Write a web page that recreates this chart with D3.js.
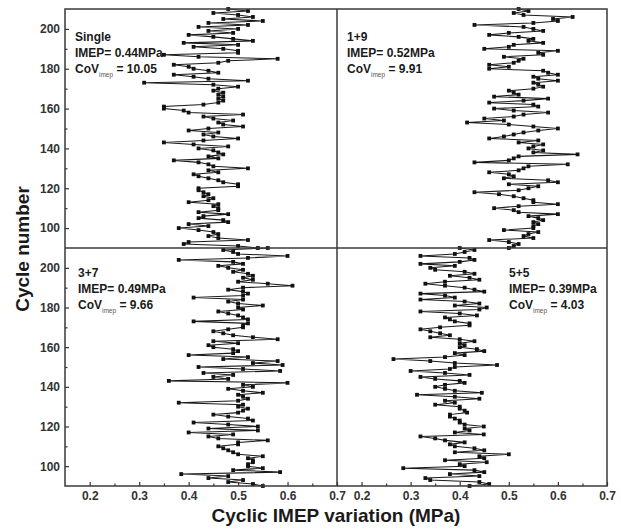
<!DOCTYPE html>
<html>
<head>
<meta charset="utf-8">
<script src="https://cdn.jsdelivr.net/npm/d3@7"></script>
<style>
  body { margin: 0; background: #fff; }
  text { font-family: "Liberation Sans", Arial, sans-serif; font-weight: bold; }
</style>
</head>
<body>
<div id="chart"></div>
<script>
// cycles run from top (210) to bottom (90)
const cycles = d3.range(210, 89, -1)

const single = [
  0.48, 0.52, 0.45, 0.50, 0.53, 0.47, 0.55, 0.44, 0.52, 0.42,
  0.50, 0.44, 0.49, 0.40, 0.45, 0.49, 0.53, 0.39, 0.50, 0.41,
  0.47, 0.50, 0.50, 0.35, 0.42, 0.58, 0.48, 0.46, 0.37, 0.40,
  0.41, 0.44, 0.46, 0.37, 0.41, 0.44, 0.52, 0.31, 0.45, 0.50,
  0.46, 0.45, 0.47, 0.46, 0.47, 0.46, 0.47, 0.46, 0.43, 0.35,
  0.35, 0.39, 0.40, 0.51, 0.43, 0.45, 0.49, 0.46, 0.47, 0.51,
  0.44, 0.40, 0.46, 0.43, 0.45, 0.50, 0.43, 0.35, 0.41, 0.48,
  0.42, 0.45, 0.46, 0.47, 0.44, 0.46, 0.37, 0.42, 0.44, 0.45,
  0.52, 0.44, 0.46, 0.41, 0.42, 0.44, 0.46, 0.47, 0.50, 0.50,
  0.42, 0.42, 0.43, 0.44, 0.43, 0.45, 0.44, 0.40, 0.46, 0.45,
  0.46, 0.46, 0.42, 0.48, 0.43, 0.42, 0.47, 0.48, 0.40, 0.44,
  0.38, 0.42, 0.45, 0.46, 0.44, 0.46, 0.52, 0.40, 0.39, 0.50, 0.54
]

const oneNine = [
  0.52, 0.54, 0.51, 0.53, 0.63, 0.59, 0.60, 0.55, 0.43, 0.53,
  0.55, 0.57, 0.50, 0.46, 0.52, 0.55, 0.54, 0.57, 0.51, 0.50,
  0.45, 0.60, 0.56, 0.57, 0.49, 0.53, 0.52, 0.51, 0.46, 0.50,
  0.46, 0.57, 0.58, 0.60, 0.55, 0.56, 0.60, 0.55, 0.56, 0.57,
  0.55, 0.50, 0.51, 0.52, 0.47, 0.58, 0.53, 0.46, 0.55, 0.56,
  0.47, 0.51, 0.58, 0.53, 0.51, 0.45, 0.49, 0.415, 0.50, 0.55,
  0.60, 0.56, 0.53, 0.51, 0.49, 0.46, 0.56, 0.52, 0.57, 0.55,
  0.54, 0.57, 0.55, 0.64, 0.52, 0.51, 0.50, 0.43, 0.62, 0.54,
  0.53, 0.52, 0.46, 0.50, 0.51, 0.49, 0.58, 0.60, 0.50, 0.56,
  0.54, 0.52, 0.43, 0.48, 0.51, 0.53, 0.55, 0.55, 0.60, 0.52,
  0.47, 0.51, 0.52, 0.60, 0.54, 0.56, 0.57, 0.55, 0.56, 0.55,
  0.55, 0.49, 0.56, 0.54, 0.53, 0.55, 0.46, 0.50, 0.52, 0.51, 0.50
]

const threeSeven = [
  0.56, 0.47, 0.49, 0.50, 0.60, 0.52, 0.38, 0.49, 0.51, 0.46,
  0.48, 0.51, 0.49, 0.52, 0.53, 0.51, 0.53, 0.50, 0.56, 0.61,
  0.51, 0.48, 0.51, 0.52, 0.51, 0.41, 0.51, 0.48, 0.50, 0.55,
  0.50, 0.51, 0.46, 0.48, 0.50, 0.51, 0.52, 0.41, 0.52, 0.51,
  0.51, 0.48, 0.45, 0.47, 0.49, 0.53, 0.58, 0.45, 0.50, 0.44,
  0.45, 0.49, 0.50, 0.49, 0.40, 0.52, 0.47, 0.58, 0.53, 0.59,
  0.42, 0.51, 0.585, 0.43, 0.49, 0.45, 0.48, 0.36, 0.60, 0.51,
  0.53, 0.48, 0.51, 0.55, 0.50, 0.51, 0.52, 0.50, 0.38, 0.51,
  0.50, 0.52, 0.51, 0.50, 0.45, 0.48, 0.52, 0.53, 0.41, 0.48,
  0.54, 0.44, 0.54, 0.40, 0.49, 0.44, 0.46, 0.56, 0.50, 0.50,
  0.46, 0.47, 0.48, 0.49, 0.50, 0.55, 0.52, 0.53, 0.53, 0.52,
  0.52, 0.55, 0.49, 0.585, 0.385, 0.48, 0.44, 0.51, 0.48, 0.53, 0.55
]

const fiveFive = [
  0.40, 0.43, 0.41, 0.39, 0.32, 0.42, 0.43, 0.40, 0.32, 0.39,
  0.34, 0.35, 0.41, 0.43, 0.38, 0.42, 0.44, 0.37, 0.33, 0.37,
  0.41, 0.43, 0.45, 0.32, 0.37, 0.39, 0.32, 0.41, 0.44, 0.39,
  0.455, 0.44, 0.32, 0.40, 0.435, 0.37, 0.38, 0.39, 0.42, 0.42,
  0.36, 0.32, 0.34, 0.36, 0.38, 0.34, 0.40, 0.43, 0.40, 0.41,
  0.40, 0.435, 0.45, 0.39, 0.41, 0.37, 0.265, 0.34, 0.39, 0.476,
  0.39, 0.38, 0.30, 0.37, 0.42, 0.32, 0.35, 0.40, 0.41, 0.37,
  0.35, 0.37, 0.39, 0.445, 0.313, 0.39, 0.44, 0.37, 0.39, 0.35,
  0.40, 0.40, 0.41, 0.415, 0.38, 0.38, 0.39, 0.40, 0.40, 0.41,
  0.449, 0.41, 0.42, 0.39, 0.449, 0.32, 0.35, 0.37, 0.41, 0.38,
  0.39, 0.43, 0.45, 0.39, 0.50, 0.44, 0.45, 0.37, 0.455, 0.40,
  0.41, 0.285, 0.43, 0.45, 0.38, 0.44, 0.33, 0.34, 0.44, 0.46, 0.42
]

const panelNames = ["Single", "1+9", "3+7", "5+5"]
const imepLabels = ["0.44", "0.52", "0.49", "0.39"]
const covLabels = ["10.05", "9.91", "9.66", "4.03"]
const xTicks = [0.2, 0.3, 0.4, 0.5, 0.6, 0.7]
const yTicks = [100, 120, 140, 160, 180, 200]

const width = 621
const height = 531
const cols = [[65, 337], [337, 607]]
const rows = [[9, 248], [248, 486]]
const series = [single, oneNine, threeSeven, fiveFive]
// text anchor offsets inside each panel
const textPos = [[75, 41], [347, 41], [78, 277], [509, 277]]

let svg = d3.select("#chart")
            .append("svg")
            .attr("width", width)
            .attr("height", height)

series.forEach(function(vals, i) {
  let c = i % 2, r = Math.floor(i / 2)
  let x = d3.scaleLinear().domain([0.15, 0.7]).range(cols[c])
  let y = d3.scaleLinear().domain([90, 210]).range([rows[r][1], rows[r][0]])
  let g = svg.append("g")

  let pts = vals.map(function(v, k) { return { v: v, cyc: cycles[k] } })

  let line = d3.line()
               .x(function(d) { return x(d.v) })
               .y(function(d) { return y(d.cyc) })

  g.append("path")
   .datum(pts)
   .attr("d", line)
   .attr("fill", "none")
   .attr("stroke", "#1a1a1a")
   .attr("stroke-width", 1.05)

  g.selectAll("rect.pt")
   .data(pts)
   .enter()
   .append("rect")
   .attr("class", "pt")
   .attr("x", function(d) { return x(d.v) - 1.9 })
   .attr("y", function(d) { return y(d.cyc) - 1.9 })
   .attr("width", 3.8)
   .attr("height", 3.8)
   .attr("fill", "#111")

  // bottom axis only on lower row
  if (r === 1) {
    svg.append("g")
       .attr("class", "axis")
       .attr("transform", "translate(0," + rows[r][1] + ")")
       .call(d3.axisBottom(x).tickValues(xTicks).tickFormat(d3.format(".1f")).tickSize(-4).tickPadding(5))
    svg.append("g")
       .attr("class", "axis minor")
       .attr("transform", "translate(0," + rows[r][1] + ")")
       .call(d3.axisBottom(x).tickValues([0.25, 0.35, 0.45, 0.55, 0.65]).tickFormat("").tickSize(-2.5))
  }
  // left axis only on left column
  if (c === 0) {
    svg.append("g")
       .attr("class", "axis")
       .attr("transform", "translate(" + cols[c][0] + ",0)")
       .call(d3.axisLeft(y).tickValues(yTicks).tickSize(-4).tickPadding(5))
    svg.append("g")
       .attr("class", "axis minor")
       .attr("transform", "translate(" + cols[c][0] + ",0)")
       .call(d3.axisLeft(y).tickValues([110, 130, 150, 170, 190]).tickFormat("").tickSize(-2.5))
  }

  // panel annotation
  let t = textPos[i]
  let ann = svg.append("g").attr("font-size", 12).attr("fill", "#1a1a1a")
  ann.append("text").attr("x", t[0]).attr("y", t[1]).text(panelNames[i])
  ann.append("text").attr("x", t[0]).attr("y", t[1] + 16).text("IMEP= " + imepLabels[i] + "MPa")
  let cov = ann.append("text").attr("x", t[0]).attr("y", t[1] + 32)
  cov.append("tspan").text("CoV")
  cov.append("tspan").attr("font-size", 6.5).attr("font-weight", "normal").attr("fill", "#555").attr("dy", 4).text("imep")
  cov.append("tspan").attr("dy", -4).text(" = " + covLabels[i])
})

svg.selectAll(".axis .domain").remove()
svg.selectAll(".axis line").attr("stroke", "#333").attr("stroke-width", 1.2)
svg.selectAll(".axis text").attr("font-size", 12).attr("fill", "#333")

// frames
let frame = svg.append("g").attr("fill", "none").attr("stroke", "#3a3a3a").attr("stroke-width", 1.5)
frame.append("rect").attr("x", 65).attr("y", 9).attr("width", 607 - 65).attr("height", 486 - 9)
frame.append("line").attr("x1", 337).attr("x2", 337).attr("y1", 9).attr("y2", 486)
frame.append("line").attr("x1", 65).attr("x2", 607).attr("y1", 248).attr("y2", 248)

svg.append("text")
   .attr("x", 336)
   .attr("y", 522)
   .attr("text-anchor", "middle")
   .attr("font-size", 19)
   .attr("fill", "#1a1a1a")
   .text("Cyclic IMEP variation (MPa)")

svg.append("text")
   .attr("transform", "translate(29,249) rotate(-90)")
   .attr("text-anchor", "middle")
   .attr("font-size", 19)
   .attr("fill", "#1a1a1a")
   .text("Cycle number")
</script>
</body>
</html>
